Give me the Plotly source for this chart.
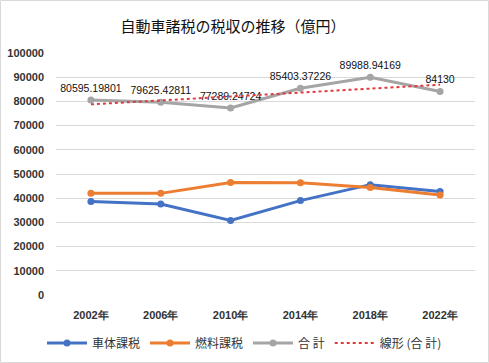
import numpy as np
import plotly.graph_objects as go

years = ["2002年", "2006年", "2010年", "2014年", "2018年", "2022年"]
body_tax = [38600, 37600, 30800, 39000, 45600, 42800]
fuel_tax = [42000, 42000, 46500, 46400, 44400, 41300]
total = [80595.19801, 79625.42811, 77289.24724, 85403.37226, 89988.94169, 84130]

def fmt(v):
    s = "%.5f" % v
    return s.rstrip("0").rstrip(".")

idx = np.arange(1, len(total) + 1)
slope, intercept = np.polyfit(idx, total, 1)
trend = list(slope * idx + intercept)

FONT = "Noto Sans CJK JP"
NUMFONT = "Liberation Sans"
fig = go.Figure()
fig.add_trace(go.Scatter(x=years, y=body_tax, name="車体課税", mode="lines+markers",
                         line=dict(color="#4472C4", width=3), marker=dict(size=7, color="#4472C4")))
fig.add_trace(go.Scatter(x=years, y=fuel_tax, name="燃料課税", mode="lines+markers",
                         line=dict(color="#ED7D31", width=3), marker=dict(size=7, color="#ED7D31")))
fig.add_trace(go.Scatter(x=years, y=total, name="合 計", mode="lines+markers+text",
                         text=[fmt(v) for v in total], textposition="top center",
                         textfont=dict(size=10.5, color="#111111", family=NUMFONT),
                         line=dict(color="#A5A5A5", width=3), marker=dict(size=7, color="#A5A5A5")))
fig.add_trace(go.Scatter(x=years, y=trend, name="線形 (合 計)", mode="lines",
                         line=dict(color="#E0393E", width=2, dash="dot")))

W, H = 489, 363
L, R, T, B = 56, 14, 53, 68
pw, ph = W - L - R, H - T - B
fig.add_shape(type="rect", xref="paper", yref="paper",
              x0=(0.5 - L) / pw, x1=(W - 0.5 - L) / pw,
              y0=-(B - 0.5) / ph, y1=1 + (T - 0.5) / ph,
              line=dict(color="#D9D9D9", width=1), layer="below")

fig.update_layout(
    width=W, height=H,
    margin=dict(l=L, r=R, t=T, b=B, autoexpand=False),
    paper_bgcolor="white", plot_bgcolor="white",
    font=dict(family=FONT, color="#404040"),
    title=dict(text="自動車諸税の税収の推移（億円）", x=233 / W, xanchor="center",
               y=1 - 27 / H, yanchor="middle", xref="container", yref="container",
               font=dict(size=15, color="#111111", family=FONT)),
    showlegend=True,
    legend=dict(orientation="h", xref="container", x=0.5, xanchor="center",
                yref="container", y=20 / H, yanchor="middle",
                font=dict(size=12, color="#333333", family=FONT),
                itemwidth=40, tracegroupgap=0),
)
fig.update_xaxes(type="category", range=[-0.5, 5.5], showgrid=False, showline=False,
                 ticks="", tickfont=dict(size=11, color="#333333", family=NUMFONT),
                 ticklabelstandoff=12, automargin=False)
fig.update_yaxes(range=[0, 100000], dtick=10000, showgrid=True, gridcolor="#D9D9D9",
                 gridwidth=1, zeroline=False, showline=False, tickformat="d",
                 tickfont=dict(size=11, color="#333333", family=NUMFONT), ticklabelstandoff=11,
                 automargin=False)
fig.update_xaxes(tickprefix="<b>", ticksuffix="</b>")
fig.update_yaxes(tickprefix="<b>", ticksuffix="</b>")

fig.write_html("out.html", config={"displayModeBar": False},
               post_script="document.body.style.margin='0';document.body.style.overflow='hidden';")
